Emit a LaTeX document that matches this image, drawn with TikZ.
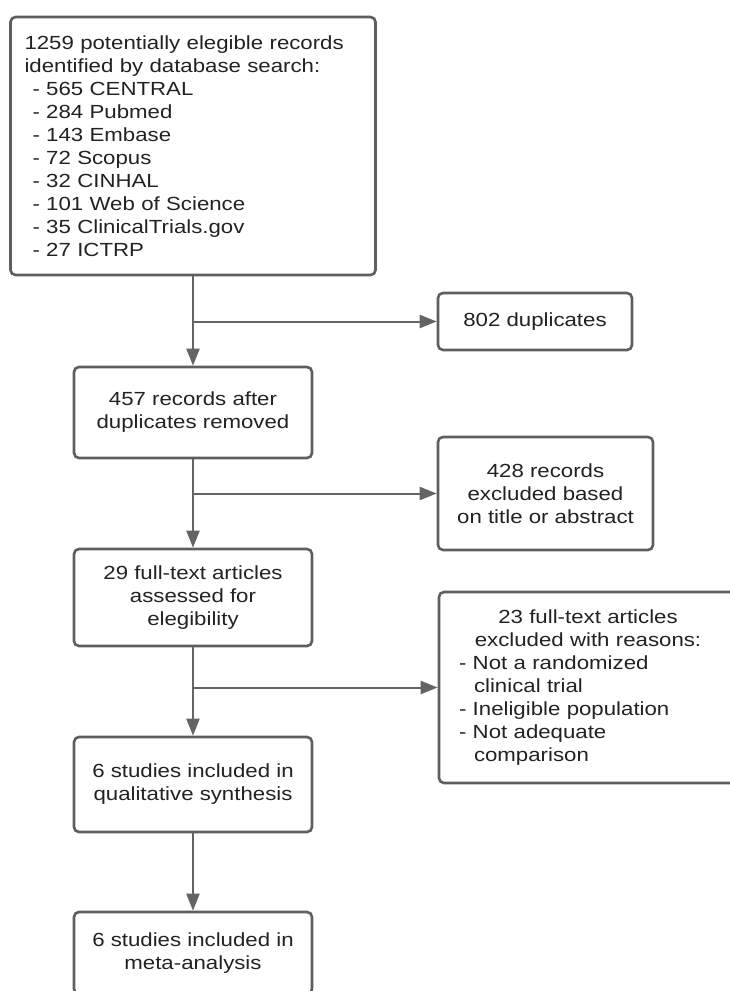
\documentclass[tikz,border=0pt]{standalone}
\usepackage{fontspec}
\setmainfont{Liberation Sans}[FakeStretch=1.17]
\usetikzlibrary{arrows.meta}
\definecolor{boxline}{HTML}{5E5E5E}
\definecolor{arrowline}{HTML}{646464}
\definecolor{textgray}{HTML}{222222}

\begin{document}
\begin{tikzpicture}[x=1pt, y=-1pt,
	box/.style={draw=boxline, line width=2.6pt, rounded corners=5pt, inner sep=0pt,
		text=textgray, font=\fontsize{19}{23}\selectfont, align=center},
	arr/.style={draw=arrowline, line width=2pt, -{Triangle[length=17pt, width=13pt]}}]
	\fill[white] (0,0) rectangle (730,991);
	\clip (0,0) rectangle (730,991);

	\node (rec) [box, minimum width=365pt, minimum height=258pt, text width=337pt, align=left] at (193,146) {1259 potentially elegible records\\ identified by database search:\\
		\hspace*{8pt}- 565 CENTRAL\\ \hspace*{8pt}- 284 Pubmed\\ \hspace*{8pt}- 143 Embase\\ \hspace*{8pt}- 72 Scopus\\
		\hspace*{8pt}- 32 CINHAL\\ \hspace*{8pt}- 101 Web of Science\\ \hspace*{8pt}- 35 ClinicalTrials.gov\\ \hspace*{8pt}- 27 ICTRP};
	\node (dup) [box, minimum width=194pt, minimum height=57pt] at (535,321.5) {802 duplicates};
	\node (rem) [box, minimum width=238pt, minimum height=91pt] at (193,412.5) {457 records after\\ duplicates removed};
	\node (exc1) [box, minimum width=215pt, minimum height=113pt] at (545.5,493.5) {428 records\\ excluded based\\ on title or abstract};
	\node (full) [box, minimum width=238pt, minimum height=97pt] at (193,597.5) {29 full-text articles\\ assessed for\\ elegibility};
	\node (exc2) [box, minimum width=298pt, minimum height=191pt, text width=258pt, align=left] at (588,687.5) {\makebox[258pt]{23 full-text articles}\\ \makebox[258pt]{excluded with reasons:}\\
		- Not a randomized\\ \hspace*{15pt}clinical trial\\ - Ineligible population\\ - Not adequate\\ \hspace*{15pt}comparison};
	\node (qual) [box, minimum width=238pt, minimum height=95pt] at (193,784.5) {6 studies included in\\ qualitative synthesis};
	\node (meta) [box, minimum width=238pt, minimum height=82pt] at (193,953) {6 studies included in\\ meta-analysis};

	\path (rec.south) edge [arr] (rem.north);
	\path (rem.north |- dup.west) edge [arr] (dup.west);
	\path (rem.south) edge [arr] (full.north);
	\path (full.north |- exc1.west) edge [arr] (exc1.west);
	\path (full.south) edge [arr] (qual.north);
	\path (qual.north |- exc2.west) edge [arr] (exc2.west);
	\path (qual.south) edge [arr] (meta.north);
\end{tikzpicture}
\end{document}
